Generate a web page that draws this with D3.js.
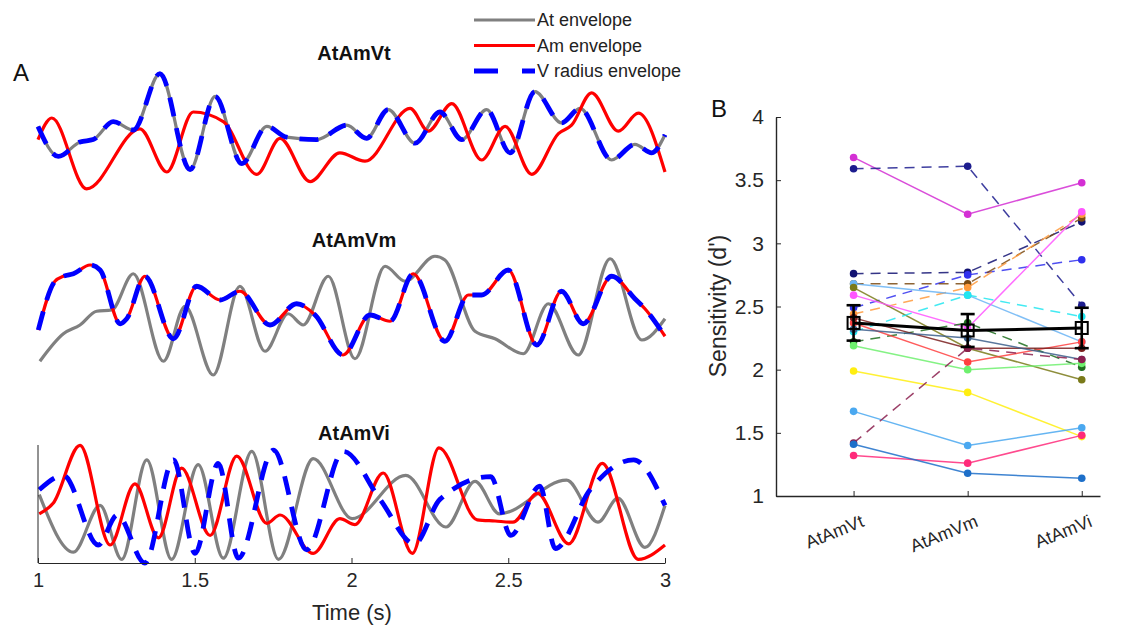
<!DOCTYPE html>
<html>
<head>
<meta charset="utf-8">
<script src="https://cdn.jsdelivr.net/npm/d3@7"></script>
<style>
  body { margin: 0; background: #fff; }
  text { font-family: "Liberation Sans", Arial, sans-serif; }
</style>
</head>
<body>
<script>
// ---- panel A data: time (s) and envelope amplitude (a.u.) ----
const topAt = [[1.000,0.53],[1.065,0.28],[1.134,0.40],[1.176,0.42],[1.240,0.57],[1.304,0.50],[1.389,0.97],[1.485,0.17],[1.565,0.78],[1.650,0.22],[1.730,0.53],[1.793,0.44],[1.889,0.42],[1.985,0.54],[2.048,0.43],[2.117,0.67],[2.203,0.39],[2.282,0.65],[2.352,0.42],[2.431,0.67],[2.506,0.31],[2.585,0.82],[2.670,0.56],[2.729,0.68],[2.830,0.25],[2.904,0.38],[2.958,0.31],[3.000,0.46]];
const topAm = [[1.000,0.42],[1.044,0.60],[1.155,0.01],[1.325,0.51],[1.411,0.15],[1.495,0.65],[1.591,0.57],[1.698,0.13],[1.772,0.43],[1.868,0.07],[1.963,0.31],[2.043,0.24],[2.187,0.68],[2.245,0.49],[2.320,0.72],[2.415,0.25],[2.490,0.53],[2.575,0.13],[2.660,0.47],[2.702,0.54],[2.766,0.81],[2.851,0.49],[2.915,0.64],[3.000,0.15]];
const topV = topAt; // V radius follows At in AtAmVt

const midAt = [[1.006,0.15],[1.081,0.37],[1.134,0.44],[1.187,0.55],[1.235,0.56],[1.304,0.85],[1.400,0.15],[1.469,0.59],[1.559,0.04],[1.644,0.75],[1.724,0.23],[1.798,0.53],[1.846,0.44],[1.926,0.83],[2.011,0.17],[2.107,0.91],[2.171,0.79],[2.266,0.99],[2.298,0.96],[2.394,0.39],[2.458,0.33],[2.548,0.21],[2.628,0.61],[2.723,0.20],[2.825,0.97],[2.926,0.32],[3.000,0.49]];
const midAm = [[1.001,0.40],[1.054,0.79],[1.081,0.83],[1.113,0.85],[1.166,0.92],[1.198,0.88],[1.262,0.45],[1.283,0.49],[1.341,0.83],[1.432,0.33],[1.506,0.75],[1.581,0.64],[1.644,0.71],[1.740,0.44],[1.825,0.61],[1.884,0.52],[1.973,0.20],[2.059,0.52],[2.123,0.47],[2.197,0.85],[2.298,0.31],[2.373,0.68],[2.415,0.68],[2.500,0.88],[2.591,0.28],[2.670,0.71],[2.739,0.45],[2.830,0.83],[2.904,0.65],[2.936,0.57],[3.000,0.35]];
const midV = midAm; // V radius follows Am in AtAmVm

const botAt = [[1.004,0.57],[1.113,0.09],[1.198,0.48],[1.267,0.03],[1.347,0.86],[1.426,0.03],[1.511,0.82],[1.591,0.04],[1.682,0.93],[1.767,0.03],[1.878,0.87],[2.002,0.37],[2.173,0.73],[2.301,0.30],[2.394,0.68],[2.472,0.41],[2.686,0.69],[2.786,0.34],[2.850,0.54],[2.936,0.13],[3.000,0.48]];
const botAm = [[1.004,0.41],[1.049,0.50],[1.134,0.98],[1.230,0.15],[1.309,0.66],[1.384,0.21],[1.458,0.79],[1.549,0.23],[1.634,0.89],[1.730,0.33],[1.772,0.40],[1.878,0.08],[1.963,0.37],[2.011,0.32],[2.101,0.75],[2.194,0.08],[2.279,0.96],[2.401,0.36],[2.458,0.35],[2.515,0.34],[2.593,0.58],[2.693,0.16],[2.800,0.83],[2.915,0.03],[3.000,0.15]];
const botV = [[1.004,0.61],[1.081,0.73],[1.192,0.15],[1.253,0.40],[1.341,0.00],[1.432,0.86],[1.501,0.08],[1.575,0.83],[1.639,0.04],[1.751,0.94],[1.857,0.11],[1.974,0.93],[2.091,0.53],[2.201,0.16],[2.282,0.53],[2.444,0.72],[2.508,0.23],[2.601,0.64],[2.650,0.12],[2.761,0.61],[2.900,0.86],[3.000,0.48]];

const timeTicks = [1, 1.5, 2, 2.5, 3];
const legendLabels = ["At envelope", "Am envelope", "V radius envelope"];

// ---- panel B data: sensitivity d' per subject ----
const conditions = ["AtAmVt", "AtAmVm", "AtAmVi"];
const dVt = [3.68, 3.59, 2.76, 2.49, 2.68, 2.44, 2.68, 2.65, 2.59, 2.30, 2.22, 2.37, 2.41, 2.32, 2.19, 1.99, 1.67, 1.42, 1.32, 1.41];
const dVm = [3.23, 3.61, 2.77, 2.75, 2.68, 2.65, 2.59, 2.17, 2.33, 2.59, 2.37, 2.06, 2.17, 2.25, 2.00, 1.82, 1.40, 2.17, 1.26, 1.18];
const dVi = [3.48, 2.51, 3.17, 2.87, 3.20, 3.23, 2.22, 1.92, 3.25, 2.42, 2.02, 2.22, 2.17, 2.08, 2.05, 1.47, 1.54, 2.08, 1.48, 1.14];
const meanD = [2.37, 2.31, 2.33];
const errD = [0.14, 0.13, 0.16];
const yTicksB = [1, 1.5, 2, 2.5, 3, 3.5, 4];

// styles per subject
const subjColors = ["#d42fd4", "#1c1c8e", "#121272", "#3030ee", "#7b4a12", "#ff9a3c", "#6ab4f5", "#7a7a1a", "#ff55ff", "#22e6f0", "#1f6e1f", "#ff4040", "#7a1f1f", "#3c5f8c", "#6ef06e", "#ffee11", "#4aa8f0", "#8b1e4e", "#ff2a7a", "#1d6fc9"];
const subjDashed = [false, true, true, true, true, true, false, false, false, true, true, false, false, false, false, false, false, true, false, false];

const width = 1127, height = 625;
const svg = d3.select("body").append("svg")
  .attr("width", width).attr("height", height);

const tickColor = "#262626";
const fontFam = "Liberation Sans, Arial, sans-serif";

// ================= panel A =================
const x = d3.scaleLinear().domain([1, 3]).range([38, 665]);
const panels = [
  { title: "AtAmVt", at: topAt, am: topAm, v: topV, y: d3.scaleLinear().domain([0, 1]).range([190, 70]), ty: 60 },
  { title: "AtAmVm", at: midAt, am: midAm, v: midV, y: d3.scaleLinear().domain([0, 1]).range([380, 255]), ty: 247 },
  { title: "AtAmVi", at: botAt, am: botAm, v: botV, y: d3.scaleLinear().domain([0, 1]).range([563, 443]), ty: 440 }
];

panels.forEach((p, i) => {
  const line = d3.line().x(d => x(d[0])).y(d => p.y(d[1])).curve(d3.curveMonotoneX);
  const g = svg.append("g");
  g.append("path").attr("d", line(p.at)).attr("fill", "none")
    .attr("stroke", "#808080").attr("stroke-width", 3.2);
  g.append("path").attr("d", line(p.am)).attr("fill", "none")
    .attr("stroke", "#ff0000").attr("stroke-width", 3.2);
  g.append("path").attr("d", line(p.v)).attr("fill", "none")
    .attr("stroke", "#0000ff").attr("stroke-width", 4.8)
    .attr("stroke-dasharray", "19,12");
  svg.append("text").attr("x", 354).attr("y", p.ty)
    .attr("text-anchor", "middle").attr("font-size", 20).attr("font-weight", "bold")
    .attr("fill", "#111").text(p.title);

  // only the bottom one has axes
  if (i === 2) {
    const xAxis = d3.axisBottom(x).tickValues(timeTicks).tickSizeInner(-5).tickSizeOuter(0)
      .tickPadding(10).tickFormat(d3.format("~g"));
    const ax = svg.append("g").attr("transform", "translate(0,563)").call(xAxis);
    ax.select(".domain").attr("stroke", tickColor);
    ax.selectAll(".tick line").attr("stroke", tickColor);
    ax.selectAll("text").attr("font-size", 20).attr("fill", tickColor)
      .attr("font-family", fontFam);
    svg.append("line").attr("x1", 38).attr("x2", 38).attr("y1", 445).attr("y2", 563)
      .attr("stroke", tickColor);
    svg.append("text").attr("x", 352).attr("y", 620).attr("text-anchor", "middle")
      .attr("font-size", 22).attr("fill", tickColor).text("Time (s)");
  }
});

svg.append("text").attr("x", 13).attr("y", 81).attr("font-size", 24).attr("fill", "#111").text("A");

// legend
const legend = svg.append("g").attr("transform", "translate(474,20)");
const legStroke = ["#808080", "#ff0000", "#0000ff"];
legendLabels.forEach((lab, i) => {
  legend.append("line").attr("x1", 0).attr("x2", 61).attr("y1", i * 25.5).attr("y2", i * 25.5)
    .attr("stroke", legStroke[i]).attr("stroke-width", i === 2 ? 4.8 : 3.2)
    .attr("stroke-dasharray", i === 2 ? "24,24" : null);
  legend.append("text").attr("x", 63).attr("y", i * 25.5 + 6)
    .attr("font-size", 18).attr("fill", "#222").text(lab);
});

// ================= panel B =================
const xB = d3.scaleLinear().domain([0.32, 3.16]).range([776, 1100]);
const yB = d3.scaleLinear().domain([1, 4]).range([496, 117]);

svg.append("text").attr("x", 711).attr("y", 117).attr("font-size", 24).attr("fill", "#111").text("B");

const yAxisB = d3.axisLeft(yB).tickValues(yTicksB).tickSizeInner(-5).tickSizeOuter(0)
  .tickPadding(12).tickFormat(d3.format("~g"));
const ayB = svg.append("g").attr("transform", "translate(776,0)").call(yAxisB);
ayB.select(".domain").attr("stroke", tickColor).attr("stroke-width", 1.4);
ayB.selectAll(".tick line").attr("stroke", tickColor);
ayB.selectAll("text").attr("font-size", 21).attr("fill", tickColor)
  .attr("font-family", fontFam);

const xAxisB = d3.axisBottom(xB).tickValues([1, 2, 3]).tickSizeInner(-5).tickSizeOuter(0)
  .tickFormat(d => conditions[d - 1]);
const axB = svg.append("g").attr("transform", "translate(0,496)").call(xAxisB);
axB.select(".domain").attr("stroke", tickColor).attr("stroke-width", 1.4);
axB.selectAll(".tick line").attr("stroke", tickColor);
axB.selectAll("text").attr("font-size", 18).attr("fill", tickColor)
  .attr("font-family", fontFam)
  .attr("text-anchor", "end").attr("dy", null).attr("y", 0)
  .attr("transform", "translate(11,30) rotate(-22)");

svg.append("text").attr("transform", "translate(726,306) rotate(-90)")
  .attr("text-anchor", "middle").attr("font-size", 23).attr("fill", tickColor)
  .text("Sensitivity (d')");

// subject lines
const subjects = dVt.map((v, i) => ({ vals: [dVt[i], dVm[i], dVi[i]], color: subjColors[i], dashed: subjDashed[i] }));
const lineB = d3.line().x((d, i) => xB(i + 1)).y(d => yB(d));
const sg = svg.append("g").selectAll("g").data(subjects).join("g");
sg.append("path").attr("d", d => lineB(d.vals)).attr("fill", "none")
  .attr("stroke", d => d.color).attr("stroke-width", 1.5).attr("stroke-opacity", 0.85)
  .attr("stroke-dasharray", d => d.dashed ? "10,7" : null);
sg.selectAll("circle").data(d => d.vals.map(v => ({ v, color: d.color }))).join("circle")
  .attr("cx", (d, i) => xB(i + 1)).attr("cy", d => yB(d.v)).attr("r", 3.8)
  .attr("fill", d => d.color);

// mean with error bars
const mg = svg.append("g");
mg.append("path").attr("d", lineB(meanD)).attr("fill", "none")
  .attr("stroke", "#000").attr("stroke-width", 3);
meanD.forEach((m, i) => {
  const cx = xB(i + 1);
  mg.append("line").attr("x1", cx).attr("x2", cx).attr("y1", yB(m - errD[i])).attr("y2", yB(m + errD[i]))
    .attr("stroke", "#000").attr("stroke-width", 2.6);
  [m - errD[i], m + errD[i]].forEach(e => {
    mg.append("line").attr("x1", cx - 7).attr("x2", cx + 7).attr("y1", yB(e)).attr("y2", yB(e))
      .attr("stroke", "#000").attr("stroke-width", 2.6);
  });
  mg.append("rect").attr("x", cx - 6).attr("y", yB(m) - 6).attr("width", 12).attr("height", 12)
    .attr("fill", "none").attr("stroke", "#000").attr("stroke-width", 2);
});
</script>
</body>
</html>
